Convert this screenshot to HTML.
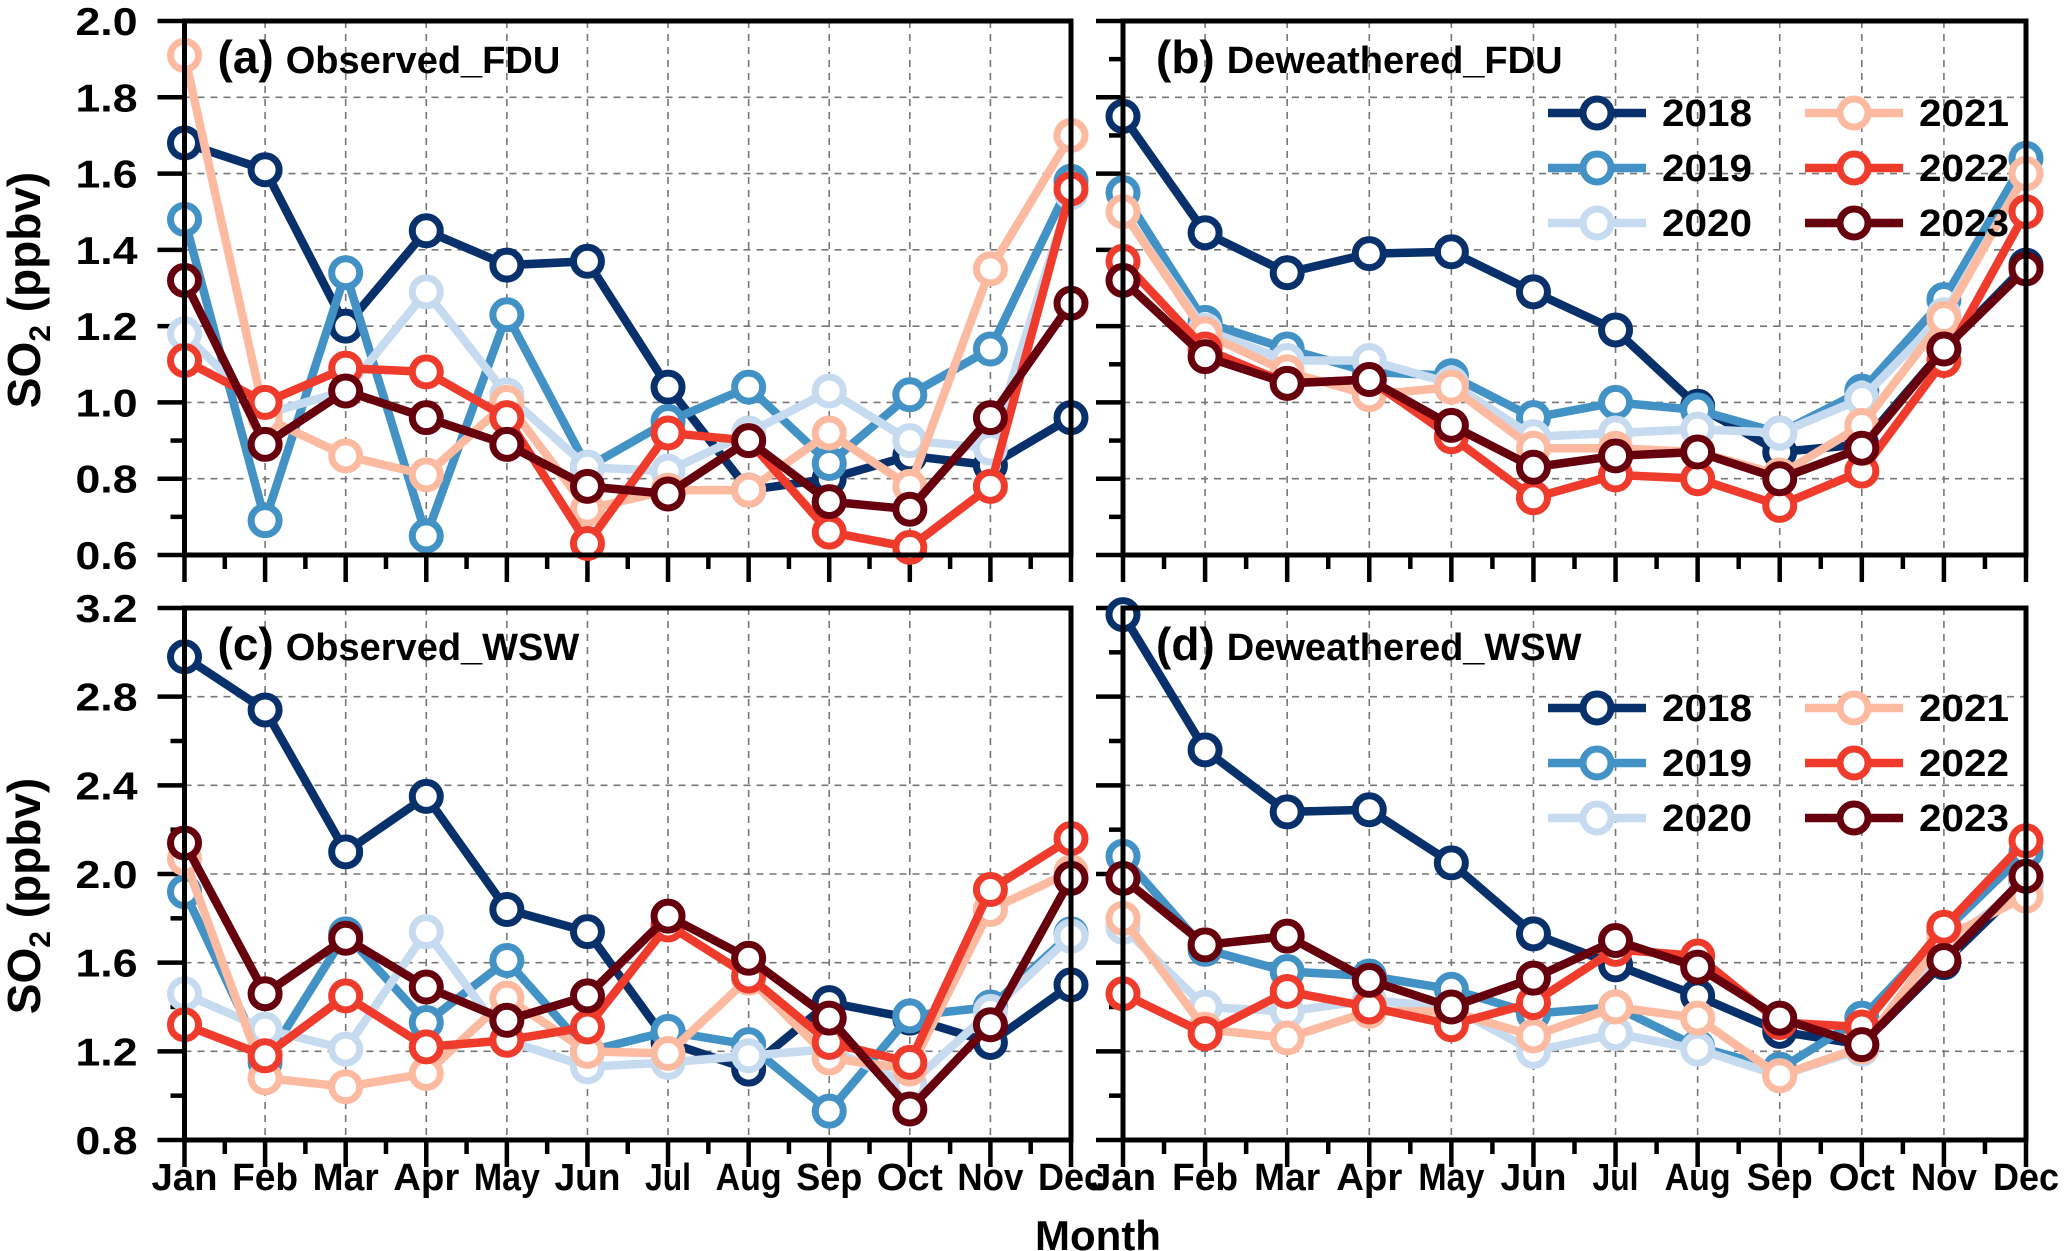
<!DOCTYPE html>
<html><head><meta charset="utf-8"><style>
html,body{margin:0;padding:0;background:#fff;}
svg{display:block;font-family:"Liberation Sans",Arial,sans-serif;font-weight:bold;}
</style></head><body>
<svg id="chart" width="2066" height="1251" viewBox="0 0 2066 1251" xmlns="http://www.w3.org/2000/svg"></svg>
<script>
const months = ["Jan","Feb","Mar","Apr","May","Jun","Jul","Aug","Sep","Oct","Nov","Dec"];
const years = ["2018","2019","2020","2021","2022","2023"];
const colors = ["#08306b","#4292c6","#c6dbef","#fcbba1","#ef3b2c","#67000d"];
const ticksTop = ["0.6","0.8","1.0","1.2","1.4","1.6","1.8","2.0"];
const ticksBottom = ["0.8","1.2","1.6","2.0","2.4","2.8","3.2"];
// (a) Observed_FDU
const obsFDU2018 = [1.68,1.61,1.20,1.45,1.36,1.37,1.04,0.77,0.80,0.86,0.835,0.96];
const obsFDU2019 = [1.48,0.69,1.34,0.65,1.23,0.83,0.95,1.04,0.84,1.02,1.14,1.58];
const obsFDU2020 = [1.18,0.97,1.03,1.29,1.02,0.83,0.82,0.92,1.03,0.90,0.88,1.55];
const obsFDU2021 = [1.91,0.96,0.86,0.81,1.00,0.72,0.77,0.77,0.92,0.78,1.35,1.70];
const obsFDU2022 = [1.11,1.00,1.09,1.08,0.96,0.63,0.92,0.90,0.66,0.62,0.78,1.56];
const obsFDU2023 = [1.32,0.89,1.03,0.96,0.89,0.78,0.76,0.90,0.74,0.72,0.96,1.26];
// (b) Deweathered_FDU
const dewFDU2018 = [1.75,1.445,1.34,1.39,1.395,1.29,1.19,0.99,0.87,0.89,1.14,1.36];
const dewFDU2019 = [1.55,1.21,1.14,1.08,1.07,0.96,1.00,0.98,0.92,1.03,1.27,1.64];
const dewFDU2020 = [1.50,1.19,1.11,1.11,1.05,0.91,0.92,0.93,0.92,1.01,1.23,1.60];
const dewFDU2021 = [1.50,1.18,1.08,1.02,1.04,0.88,0.88,0.87,0.81,0.94,1.22,1.60];
const dewFDU2022 = [1.37,1.14,1.05,1.06,0.91,0.75,0.81,0.80,0.73,0.82,1.11,1.50];
const dewFDU2023 = [1.32,1.12,1.05,1.06,0.94,0.83,0.86,0.87,0.80,0.88,1.14,1.35];
// (c) Observed_WSW
const obsWSW2018 = [2.98,2.74,2.10,2.35,1.84,1.74,1.24,1.12,1.42,1.35,1.24,1.50];
const obsWSW2019 = [1.92,1.15,1.73,1.33,1.61,1.20,1.29,1.23,0.93,1.36,1.40,1.73];
const obsWSW2020 = [1.46,1.30,1.21,1.74,1.25,1.13,1.15,1.18,1.21,1.05,1.38,1.72];
const obsWSW2021 = [2.07,1.08,1.04,1.10,1.44,1.20,1.19,1.53,1.17,1.12,1.84,2.01];
const obsWSW2022 = [1.32,1.18,1.45,1.22,1.25,1.31,1.77,1.54,1.24,1.15,1.93,2.16];
const obsWSW2023 = [2.14,1.46,1.71,1.49,1.34,1.45,1.81,1.62,1.35,0.94,1.32,1.98];
// (d) Deweathered_WSW
const dewWSW2018 = [3.17,2.56,2.28,2.29,2.05,1.73,1.59,1.45,1.29,1.23,1.60,1.96];
const dewWSW2019 = [2.08,1.66,1.56,1.54,1.48,1.37,1.40,1.22,1.12,1.35,1.74,2.10];
const dewWSW2020 = [1.76,1.40,1.38,1.43,1.40,1.20,1.28,1.21,1.09,1.21,1.68,1.95];
const dewWSW2021 = [1.80,1.30,1.26,1.38,1.38,1.27,1.40,1.35,1.09,1.22,1.71,1.90];
const dewWSW2022 = [1.46,1.28,1.47,1.40,1.32,1.42,1.66,1.63,1.33,1.31,1.76,2.15];
const dewWSW2023 = [1.98,1.68,1.72,1.52,1.40,1.53,1.70,1.58,1.35,1.23,1.61,1.99];

const NS="http://www.w3.org/2000/svg";
const svg=document.getElementById('chart');
function mk(tag,attrs,parent,text){
  const e=document.createElementNS(NS,tag);
  for(const k in attrs) e.setAttribute(k,attrs[k]);
  if(text!==undefined) e.textContent=text;
  (parent||svg).appendChild(e); return e;
}
function panel(opt){
  const g=mk('g',{});
  
  
  const L=opt.x0,R=opt.x1,T=opt.y0,B=opt.y1;
  const ymin=parseFloat(opt.ticks[0]),ymax=parseFloat(opt.ticks[opt.ticks.length-1]);
  const xs=i=>L+(R-L)*i/(months.length-1);
  const ys=v=>B-(v-ymin)/(ymax-ymin)*(B-T);
  const step=parseFloat(opt.ticks[1])-parseFloat(opt.ticks[0]);
  for(let i=1;i<months.length-1;i++){
    const l=mk('line',{x1:xs(i),x2:xs(i),y1:T,y2:B,stroke:'#777','stroke-width':1.6,'stroke-dasharray':'7,6'},g);
    
    
  }
  opt.ticks.forEach((t,i)=>{
    const v=parseFloat(t);
    if(i>0&&i<opt.ticks.length-1){
      const l=mk('line',{x1:L,x2:R,y1:ys(v),y2:ys(v),stroke:'#777','stroke-width':1.6,'stroke-dasharray':'7,6'},g);
      
      
    }
    const tk=mk('line',{x1:L-27,x2:L,y1:ys(v),y2:ys(v),stroke:'#000','stroke-width':4.5},g);
    
    
    if(i<opt.ticks.length-1){
      const mv=v+step/2;
      const mt=mk('line',{x1:L-14,x2:L,y1:ys(mv),y2:ys(mv),stroke:'#000','stroke-width':4.5},g);
      
      
    }
    if(opt.ylabels){
      const tx=mk('text',{x:L-47,y:ys(v)+14,'text-anchor':'end','font-size':39,textLength:62,lengthAdjust:'spacingAndGlyphs'},g,t);
      
      
    }
  });
  months.forEach((m,i)=>{
    const tk=mk('line',{x1:xs(i),x2:xs(i),y1:B,y2:B+27,stroke:'#000','stroke-width':4.5},g);
    
    
    if(i<months.length-1){
      const mt=mk('line',{x1:(xs(i)+xs(i+1))/2,x2:(xs(i)+xs(i+1))/2,y1:B,y2:B+14,stroke:'#000','stroke-width':4.5},g);
      
      
    }
    if(opt.xlabels){
      const tx=mk('text',{x:xs(i),y:B+50,'text-anchor':'middle','font-size':38,textLength:m==='Jul'?46:66,lengthAdjust:'spacingAndGlyphs'},g,m);
      
      
    }
  });
  opt.series.forEach((vals,s)=>{
    const sg=mk('g',{},g);
    
    
    const pts=vals.map((v,i)=>xs(i)+','+ys(v)).join(' ');
    const pl=mk('polyline',{points:pts,fill:'none',stroke:colors[s],'stroke-width':8.5,'stroke-linejoin':'round'},sg);
    
    
    vals.forEach((v,i)=>{
      const c=mk('circle',{cx:xs(i),cy:ys(v),r:14,fill:'#fff',stroke:colors[s],'stroke-width':7},sg);
      
      
    });
  });
  const fr=mk('rect',{x:L,y:T,width:R-L,height:B-T,fill:'none',stroke:'#000','stroke-width':5},g);
  
  
  const tt=mk('text',{x:L+33,y:T+52},g);
  
  
  mk('tspan',{'font-size':46},tt,opt.tag);
  mk('tspan',{'font-size':38,dx:12},tt,opt.title);
  if(opt.legendY){
    years.forEach((y,s)=>{
      const col=Math.floor(s/3),row=s%3;
      const lx=[1548,1805][col],ly=opt.legendY+row*55;
      const lg=mk('g',{},g);
      
      
      mk('line',{x1:lx,x2:lx+98,y1:ly,y2:ly,stroke:colors[s],'stroke-width':8.5},lg);
      mk('circle',{cx:lx+49,cy:ly,r:14,fill:'#fff',stroke:colors[s],'stroke-width':7},lg);
      mk('text',{x:lx+114,y:ly+13,'font-size':38,textLength:90,lengthAdjust:'spacingAndGlyphs'},lg,y);
    });
  }
}
panel({name:'panel-a-observed-fdu',x0:184.5,x1:1071,y0:21,y1:555,ticks:ticksTop,ylabels:true,xlabels:false,tag:'(a)',title:'Observed_FDU',
  series:[obsFDU2018,obsFDU2019,obsFDU2020,obsFDU2021,obsFDU2022,obsFDU2023]});
panel({name:'panel-b-deweathered-fdu',x0:1123,x1:2026,y0:21,y1:555,ticks:ticksTop,ylabels:false,xlabels:false,tag:'(b)',title:'Deweathered_FDU',legendY:113,
  series:[dewFDU2018,dewFDU2019,dewFDU2020,dewFDU2021,dewFDU2022,dewFDU2023]});
panel({name:'panel-c-observed-wsw',x0:184.5,x1:1071,y0:608,y1:1140,ticks:ticksBottom,ylabels:true,xlabels:true,tag:'(c)',title:'Observed_WSW',
  series:[obsWSW2018,obsWSW2019,obsWSW2020,obsWSW2021,obsWSW2022,obsWSW2023]});
panel({name:'panel-d-deweathered-wsw',x0:1123,x1:2026,y0:608,y1:1140,ticks:ticksBottom,ylabels:false,xlabels:true,tag:'(d)',title:'Deweathered_WSW',legendY:708,
  series:[dewWSW2018,dewWSW2019,dewWSW2020,dewWSW2021,dewWSW2022,dewWSW2023]});
[290,896].forEach((cy,i)=>{
  const t=mk('text',{x:0,y:0,transform:'translate(40,'+cy+') rotate(-90)','text-anchor':'middle','font-size':46});
  
  
  mk('tspan',{},t,'SO');
  mk('tspan',{'font-size':30,dy:10},t,'2');
  mk('tspan',{dy:-10},t,' (ppbv)');
});
const mt=mk('text',{x:1098,y:1250,'text-anchor':'middle','font-size':42},svg,'Month');


</script>
</body></html>
